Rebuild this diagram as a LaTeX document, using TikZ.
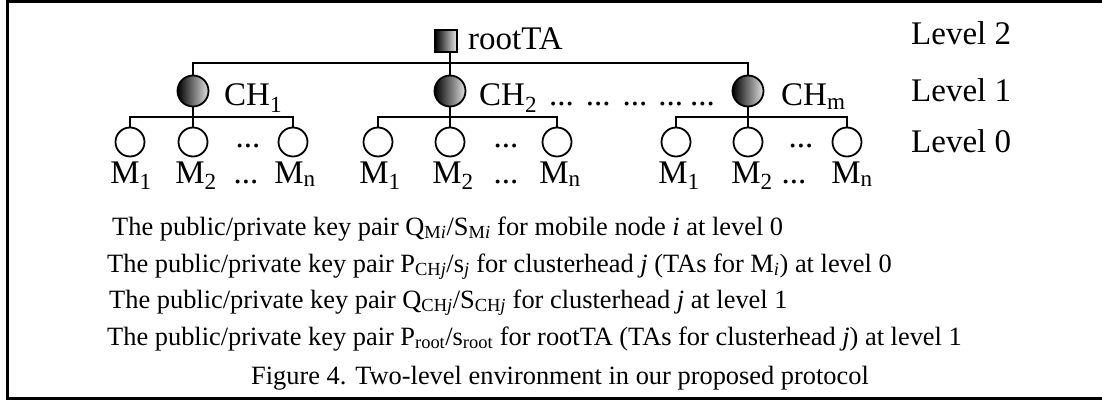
\documentclass[tikz,border=0pt]{standalone}
\usepackage{fontspec}
\setmainfont{Liberation Serif}
\begin{document}
\begin{tikzpicture}[x=1pt,y=-1pt,
  tree/.style={line width=2pt},
  frame/.style={line width=3pt},
  chnode/.style={circle, draw, line width=1.8pt, minimum size=31pt, inner sep=0pt, left color=black, right color=black!12},
  mnode/.style={circle, draw, line width=1.8pt, minimum size=29pt, inner sep=0pt, fill=white},
  rootnode/.style={rectangle, draw, line width=1.8pt, minimum size=22pt, inner sep=0pt, left color=black, right color=black!8},
  lbl/.style={font=\fontsize{33}{36}\selectfont, inner sep=0pt},
  txt/.style={font=\fontsize{26.4}{37}\selectfont, inner sep=0pt, anchor=base west}]
\useasboundingbox (0,0) rectangle (1102,401);
\clip (0,0) rectangle (1102,401);
% frame (right side lies outside the picture)
\draw[frame] (7.5,1.5) rectangle (1130,398.5);
% bus coordinates
\coordinate (b2) at (0,63.5);
\coordinate (b1) at (0,117);
% root
\node[rootnode] (root) at (446,41) {};
\node[lbl, anchor=base west] (rootlbl) at (468,50) {rootTA};
% clusterheads
\node[chnode] (ch1) at (193,91) {};
\node[chnode] (ch2) at (450,91) {};
\node[chnode] (chm) at (748,91) {};
\node[lbl, anchor=base west] (ch1lbl) at (224,106) {CH\textsubscript{1}};
\node[lbl, anchor=base west] (ch2lbl) at (479,106) {CH\textsubscript{2}\hspace{12pt}...\hspace{12pt}...\hspace{12pt}...\hspace{11pt}...\hspace{7pt}...};
\node[lbl, anchor=base west] (chmlbl) at (781,106) {CH\textsubscript{m}};
% mobile nodes
\node[mnode] (m11) at (130,142) {};
\node[mnode] (m12) at (193,142) {};
\node[mnode] (m1n) at (293,142) {};
\node[mnode] (m21) at (378,142) {};
\node[mnode] (m22) at (450,142) {};
\node[mnode] (m2n) at (557,142) {};
\node[mnode] (mm1) at (676,142) {};
\node[mnode] (mm2) at (748,142) {};
\node[mnode] (mmn) at (847,142) {};
% dots between circles
\node[lbl, anchor=base] (d1) at (248,147) {...};
\node[lbl, anchor=base] (d2) at (506,147) {...};
\node[lbl, anchor=base] (dm) at (801,147) {...};
% mobile labels
\node[lbl, anchor=base] (t11) at (131,183) {M\textsubscript{1}};
\node[lbl, anchor=base] (t12) at (196,183) {M\textsubscript{2}};
\node[lbl, anchor=base] (td1) at (246,183) {...};
\node[lbl, anchor=base] (t1n) at (295,183) {M\textsubscript{n}};
\node[lbl, anchor=base] (t21) at (380,183) {M\textsubscript{1}};
\node[lbl, anchor=base] (t22) at (453,183) {M\textsubscript{2}};
\node[lbl, anchor=base] (td2) at (506,183) {...};
\node[lbl, anchor=base] (t2n) at (560,183) {M\textsubscript{n}};
\node[lbl, anchor=base] (tm1) at (679,183) {M\textsubscript{1}};
\node[lbl, anchor=base] (tm2) at (752,183) {M\textsubscript{2}};
\node[lbl, anchor=base] (tdm) at (794,183) {...};
\node[lbl, anchor=base] (tmn) at (852,183) {M\textsubscript{n}};
% level labels
\node[lbl, anchor=base west] (lv2) at (911,45) {Level 2};
\node[lbl, anchor=base west] (lv1) at (911,102) {Level 1};
\node[lbl, anchor=base west] (lv0) at (911,152) {Level 0};
% connectors
\draw[tree] (ch1.north) -- (ch1.north |- b2) -- (chm.north |- b2) -- (chm.north);
\draw[tree] (root.south -| ch2) -- (ch2.north);
\draw[tree] (m11.north) -- (m11.north |- b1) -- (m1n.north |- b1) -- (m1n.north);
\draw[tree] (ch1.south) -- (m12.north);
\draw[tree] (m21.north) -- (m21.north |- b1) -- (m2n.north |- b1) -- (m2n.north);
\draw[tree] (ch2.south) -- (m22.north);
\draw[tree] (mm1.north) -- (mm1.north |- b1) -- (mmn.north |- b1) -- (mmn.north);
\draw[tree] (chm.south) -- (mm2.north);
% text lines
\node[txt] (k1) at (112,235) {The public/private key pair Q\textsubscript{M\textit{i}}/S\textsubscript{M\textit{i}} for mobile node \textit{i} at level 0};
\node[txt] (k2) at (107,272) {The public/private key pair P\textsubscript{CH\textit{j}}/s\textsubscript{\textit{j}} for clusterhead \textit{j} (TAs for M\textsubscript{\textit{i}}) at level 0};
\node[txt] (k3) at (109,308) {The public/private key pair Q\textsubscript{CH\textit{j}}/S\textsubscript{CH\textit{j}} for clusterhead \textit{j} at level 1};
\node[txt] (k4) at (107,345) {The public/private key pair P\textsubscript{root}/s\textsubscript{root} for rootTA (TAs for clusterhead \textit{j}) at level 1};
\node[txt] (cap) at (251,384) {Figure 4. Two-level environment in our proposed protocol};
\end{tikzpicture}
\end{document}
